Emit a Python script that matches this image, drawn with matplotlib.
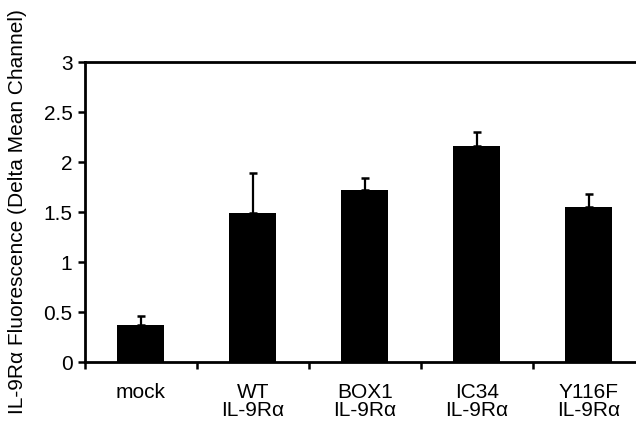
import matplotlib.pyplot as plt
import numpy as np

# values
groups = ['mock', 'WT\nIL-9Rα', 'BOX1\nIL-9Rα', 'IC34\nIL-9Rα', 'Y116F\nIL-9Rα']
means = [0.37, 1.49, 1.72, 2.16, 1.55]
errs = [0.09, 0.40, 0.12, 0.14, 0.13]
yticks = [0, 0.5, 1, 1.5, 2, 2.5, 3]
ytick_labels = ['0', '0.5', '1', '1.5', '2', '2.5', '3']

plt.rcParams['font.family'] = ['Liberation Sans', 'DejaVu Sans']

fig = plt.figure(figsize=(6.36, 4.21), dpi=100)
ax = fig.add_axes([0.1336, 0.140, 0.8805, 0.7126])

x = np.arange(len(groups))
ax.bar(x, means, width=0.42, color='black', zorder=2)
ax.errorbar(x, means, yerr=[np.zeros(len(errs)), errs], fmt='none',
            ecolor='black', elinewidth=1.6, capsize=2.8, capthick=1.8, zorder=3)

ax.set_xlim(-0.5, len(groups) - 0.5)
ax.set_ylim(0, 3)

ax.set_yticks(yticks)
ax.set_yticklabels(ytick_labels, fontsize=15)
ax.set_xticks(x)
ax.set_xticklabels(groups, fontsize=15, linespacing=0.95)
ax.set_xticks(np.arange(len(groups) + 1) - 0.5, minor=True)
ax.tick_params(axis='x', which='major', length=0, pad=15)
ax.tick_params(axis='x', which='minor', length=5, width=1.8, direction='out')
ax.tick_params(axis='y', length=5, width=1.8, direction='out', pad=4)

for side in ['left', 'bottom', 'top']:
    ax.spines[side].set_linewidth(2)
ax.spines['right'].set_visible(False)

ax.set_ylabel('IL-9Rα Fluorescence (Delta Mean Channel)', fontsize=15, labelpad=12)

fig.savefig('out.png', dpi=100)
